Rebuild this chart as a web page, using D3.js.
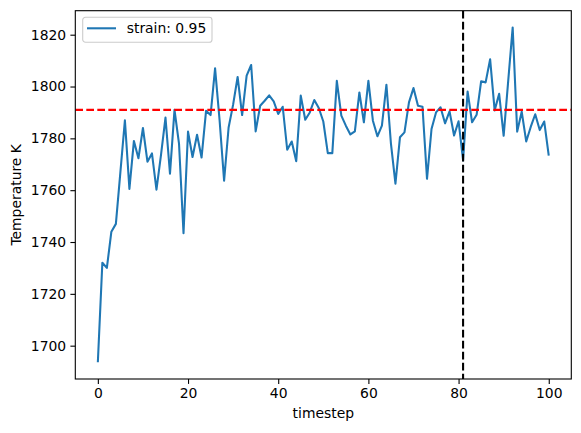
<!DOCTYPE html>
<html>
<head>
<meta charset="utf-8">
<script src="https://cdn.jsdelivr.net/npm/d3@7"></script>
<style>
  body { margin: 0; background: #fff; }
  svg { display: block; font-family: "DejaVu Sans", sans-serif; }
</style>
</head>
<body>
<script>
const timesteps = d3.range(0, 101);
const temperature = [
  1693.6, 1732, 1730, 1744, 1747, 1767, 1787, 1760.5, 1779, 1772.3,
  1784, 1771, 1774.2, 1760.2, 1773.5, 1788, 1766.4, 1791, 1778, 1743.4,
  1782.6, 1772.8, 1781.4, 1772.6, 1790.6, 1789, 1807, 1787, 1763.7, 1784.2,
  1793, 1803.7, 1789, 1804.2, 1808.3, 1782.7, 1792.6, 1794.5, 1796.6, 1794.3,
  1789.4, 1792.2, 1775.6, 1778.8, 1771.2, 1796.5, 1787.2, 1790, 1794.8, 1791.7,
  1786.5, 1774.3, 1774.3, 1802.2, 1788.8, 1784.9, 1781.5, 1782.7, 1797.7, 1786.2,
  1802.2, 1786.8, 1780.8, 1784.9, 1800.7, 1778, 1762.5, 1780.4, 1782.3, 1793.9,
  1799.4, 1792.6, 1792.2, 1764.4, 1783.6, 1790, 1792, 1785.8, 1790.4, 1781.1,
  1786.6, 1771.5, 1798.1, 1786.2, 1789.1, 1802, 1801.6, 1810.5, 1790.8, 1797.2,
  1781, 1802, 1822.8, 1782.6, 1790.3, 1778.8, 1784.4, 1789.3, 1783.2, 1786.5,
  1773.3
];
const meanTemp = 1791;
const markerStep = 81;
const seriesLabel = "strain: 0.95";
const xTicks = [0, 20, 40, 60, 80, 100];
const yTicks = [1700, 1720, 1740, 1760, 1780, 1800, 1820];

const width = 581, height = 433;
const margin = {left: 75.3, top: 10.7, right: 9.7, bottom: 54};
const w = width - margin.left - margin.right,
      h = height - margin.top - margin.bottom;

const svg = d3.select("body").append("svg")
  .attr("width", width)
  .attr("height", height);

const g = svg.append("g")
  .attr("transform", `translate(${margin.left},${margin.top})`);

let [lo, hi] = d3.extent(temperature);
let pad = (hi - lo) * 0.05;

const x = d3.scaleLinear().domain([-5, 105]).range([0, w]);
const y = d3.scaleLinear().domain([lo - pad, hi + pad]).range([h, 0]);

g.append("defs").append("clipPath").attr("id", "clip")
  .append("rect").attr("width", w).attr("height", h);

const plot = g.append("g").attr("clip-path", "url(#clip)");

const line = d3.line()
  .x((d, i) => x(timesteps[i]))
  .y(d => y(d));

plot.append("path")
  .datum(temperature)
  .attr("fill", "none")
  .attr("stroke", "#1f77b4")
  .attr("stroke-width", 2.08)
  .attr("stroke-linejoin", "round")
  .attr("d", line);

plot.append("line")
  .attr("x1", 0).attr("x2", w)
  .attr("y1", y(meanTemp)).attr("y2", y(meanTemp))
  .attr("stroke", "#ff0000")
  .attr("stroke-width", 2.08)
  .attr("stroke-dasharray", "7.7,3.3");

plot.append("line")
  .attr("x1", x(markerStep)).attr("x2", x(markerStep))
  .attr("y1", 0).attr("y2", h)
  .attr("stroke", "#000")
  .attr("stroke-width", 2.08)
  .attr("stroke-dasharray", "7.7,3.3");

// axes
const xAxis = g.append("g")
  .attr("transform", `translate(0,${h})`)
  .call(d3.axisBottom(x).tickValues(xTicks).tickFormat(d3.format("d"))
    .tickSize(4.9).tickPadding(4.2));
const yAxis = g.append("g")
  .call(d3.axisLeft(y).tickValues(yTicks).tickFormat(d3.format("d"))
    .tickSize(4.9).tickPadding(4.2));

[xAxis, yAxis].forEach(a => {
  a.select(".domain").remove();
  a.selectAll(".tick line").attr("stroke", "#000").attr("stroke-width", 1.1);
  a.selectAll(".tick text")
    .attr("fill", "#000")
    .style("font-size", "13.9px")
    .style("font-family", "DejaVu Sans");
});

g.append("rect")
  .attr("width", w).attr("height", h)
  .attr("fill", "none")
  .attr("stroke", "#000")
  .attr("stroke-width", 1.1);

svg.append("text")
  .attr("x", margin.left + w / 2)
  .attr("y", 418)
  .attr("text-anchor", "middle")
  .style("font-size", "13.9px")
  .text("timestep");

svg.append("text")
  .attr("transform", `translate(21,${margin.top + h / 2}) rotate(-90)`)
  .attr("text-anchor", "middle")
  .style("font-size", "13.9px")
  .text("Temperature K");

// legend
const legend = svg.append("g").attr("transform", "translate(82.7,17.3)");
legend.append("rect")
  .attr("width", 129.3).attr("height", 25)
  .attr("rx", 2.8)
  .attr("fill", "#fff").attr("fill-opacity", 0.8)
  .attr("stroke", "#cccccc").attr("stroke-width", 1.1);
legend.append("line")
  .attr("x1", 4.3).attr("x2", 33.3)
  .attr("y1", 11).attr("y2", 11)
  .attr("stroke", "#1f77b4").attr("stroke-width", 2.08);
legend.append("text")
  .attr("x", 44)
  .attr("y", 16)
  .style("font-size", "13.9px")
  .text(seriesLabel);
</script>
</body>
</html>
